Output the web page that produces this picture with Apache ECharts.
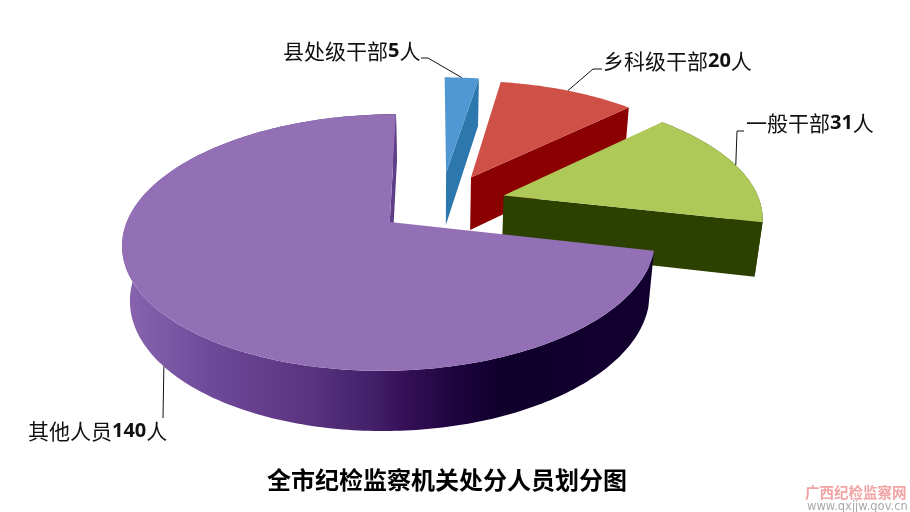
<!DOCTYPE html>
<html><head><meta charset="utf-8">
<style>html,body{margin:0;padding:0;background:#fff}#c{width:910px;height:512px}</style>
<script src="https://cdn.jsdelivr.net/npm/echarts@6/dist/echarts.min.js"></script>
</head><body><div id="c"></div>
<script>
var categories = ['县处级干部', '乡科级干部', '一般干部', '其他人员'];
var values = [5, 20, 31, 140];
var unit = '人';
var chartTitle = '全市纪检监察机关处分人员划分图';
var watermarkName = '广西纪检监察网';
var watermarkUrl = 'www.qxjjw.gov.cn';

// view of the tilted pie
var view = {xc: 435, yc: 222, A: 263, B: 125, k: 0.16, m: 0.025, D: 55.8};
// how far each slice is pulled out, in radius units
var explode = [[0.045, 0.42], [0.145, 0.377], [0.27, 0.22], [-0.172, 0]];
var tops = ['#4f98d4', '#cf5047', '#afc959', '#9370b5'];
var cuts = ['#2c77ad', '#8b0000', '#2c4000', '#5e3f87'];
var labelPos = [[283, 51], [603, 61], [746, 123], [28, 431]];
var leaders = [
  [[421, 58], [428, 58]],
  [[602, 69], [593, 69]],
  [[744, 131], [737, 131]],
  [[163, 418]]
];
var purpleWall = [[0,'#8a66b0'],[0.165,'#6f4a9a'],[0.35,'#5a347f'],[0.47,'#44206a'],[0.53,'#361058'],[0.62,'#1f0540'],[0.71,'#10002c'],[1,'#12002e']]
  .map(function (s) { return {offset: s[0], color: s[1]}; });

var total = values.reduce(function (a, b) { return a + b; }, 0);
function project(X, Y, low) {
  var w = 1 + view.k * Y + (low ? view.m : 0);
  return [view.xc + view.A * X / w, view.yc + (-view.B * Y + (low ? view.D : 0)) / w];
}
function rimPoint(i, deg, low) {
  var t = deg * Math.PI / 180;
  return project(explode[i][0] + Math.sin(t), explode[i][1] + Math.cos(t), low);
}
function arc(i, a, b, low) {
  var pts = [], n = Math.max(2, Math.ceil(Math.abs(b - a)));
  for (var j = 0; j <= n; j++) pts.push(rimPoint(i, a + (b - a) * j / n, low));
  return pts;
}
function poly(points, fill) {
  return {type: 'polygon', shape: {points: points}, style: {fill: fill}};
}
function renderSlice(params, api) {
  var i = params.dataIndex, before = 0;
  for (var n = 0; n < i; n++) before += values[n];
  var a = before / total * 360, b = (before + api.value(0)) / total * 360;
  var tipT = project(explode[i][0], explode[i][1], false);
  var tipB = project(explode[i][0], explode[i][1], true);
  var rimT = arc(i, a, b, false), rimB = arc(i, a, b, true);
  var wallFill = i === 3 ? new echarts.graphic.LinearGradient(0, 0, 1, 0, purpleWall) : cuts[i];
  var kids = [];
  if (i >= 2) kids.push(poly(rimT.concat(rimB.slice().reverse()), wallFill));
  kids.push(poly([tipT, rimT[rimT.length - 1], rimB[rimB.length - 1], tipB], cuts[i]));
  kids.push(poly([tipT].concat(rimT), tops[i]));
  // leader line
  var mid = (a + b) / 2;
  var anchor = rimPoint(i, mid, i === 3);
  kids.push({type: 'polyline', shape: {points: [anchor].concat(leaders[i].slice().reverse())},
    style: {stroke: '#111', lineWidth: 1, fill: null}, z2: 10});
  kids.push({type: 'text', z2: 11, x: labelPos[i][0], y: labelPos[i][1], style: {
    text: '{c|' + categories[i] + '}{d|' + api.value(0) + '}{c|' + unit + '}',
    verticalAlign: 'middle', align: 'left',
    rich: {
      c: {font: '400 21px "Noto Sans CJK SC"', fill: '#111'},
      d: {font: '700 20px "Open Sans"', fill: '#111'}
    }
  }});
  return {type: 'group', children: kids};
}
var chart = echarts.init(document.getElementById('c'), null, {renderer: 'canvas', width: 910, height: 512});
chart.setOption({
  animation: false,
  backgroundColor: '#fff',
  title: {text: chartTitle, left: 262, top: 463,
    textStyle: {fontFamily: '"Noto Sans CJK SC"', fontWeight: 700, fontSize: 24, color: '#000'}},
  graphic: [
    {type: 'text', x: 805, y: 485, style: {text: watermarkName, font: '700 14.5px "Noto Sans CJK SC"', fill: '#f2a3a3'}},
    {type: 'text', x: 807, y: 501, style: {text: watermarkUrl, font: '11.5px "DejaVu Sans"', fill: '#a8a8a8', width: 100}}
  ],
  series: [{
    type: 'custom',
    coordinateSystem: 'none',
    renderItem: renderSlice,
    silent: true,
    data: values.map(function (v, i) { return {name: categories[i], value: [v]}; })
  }]
});
</script></body></html>
